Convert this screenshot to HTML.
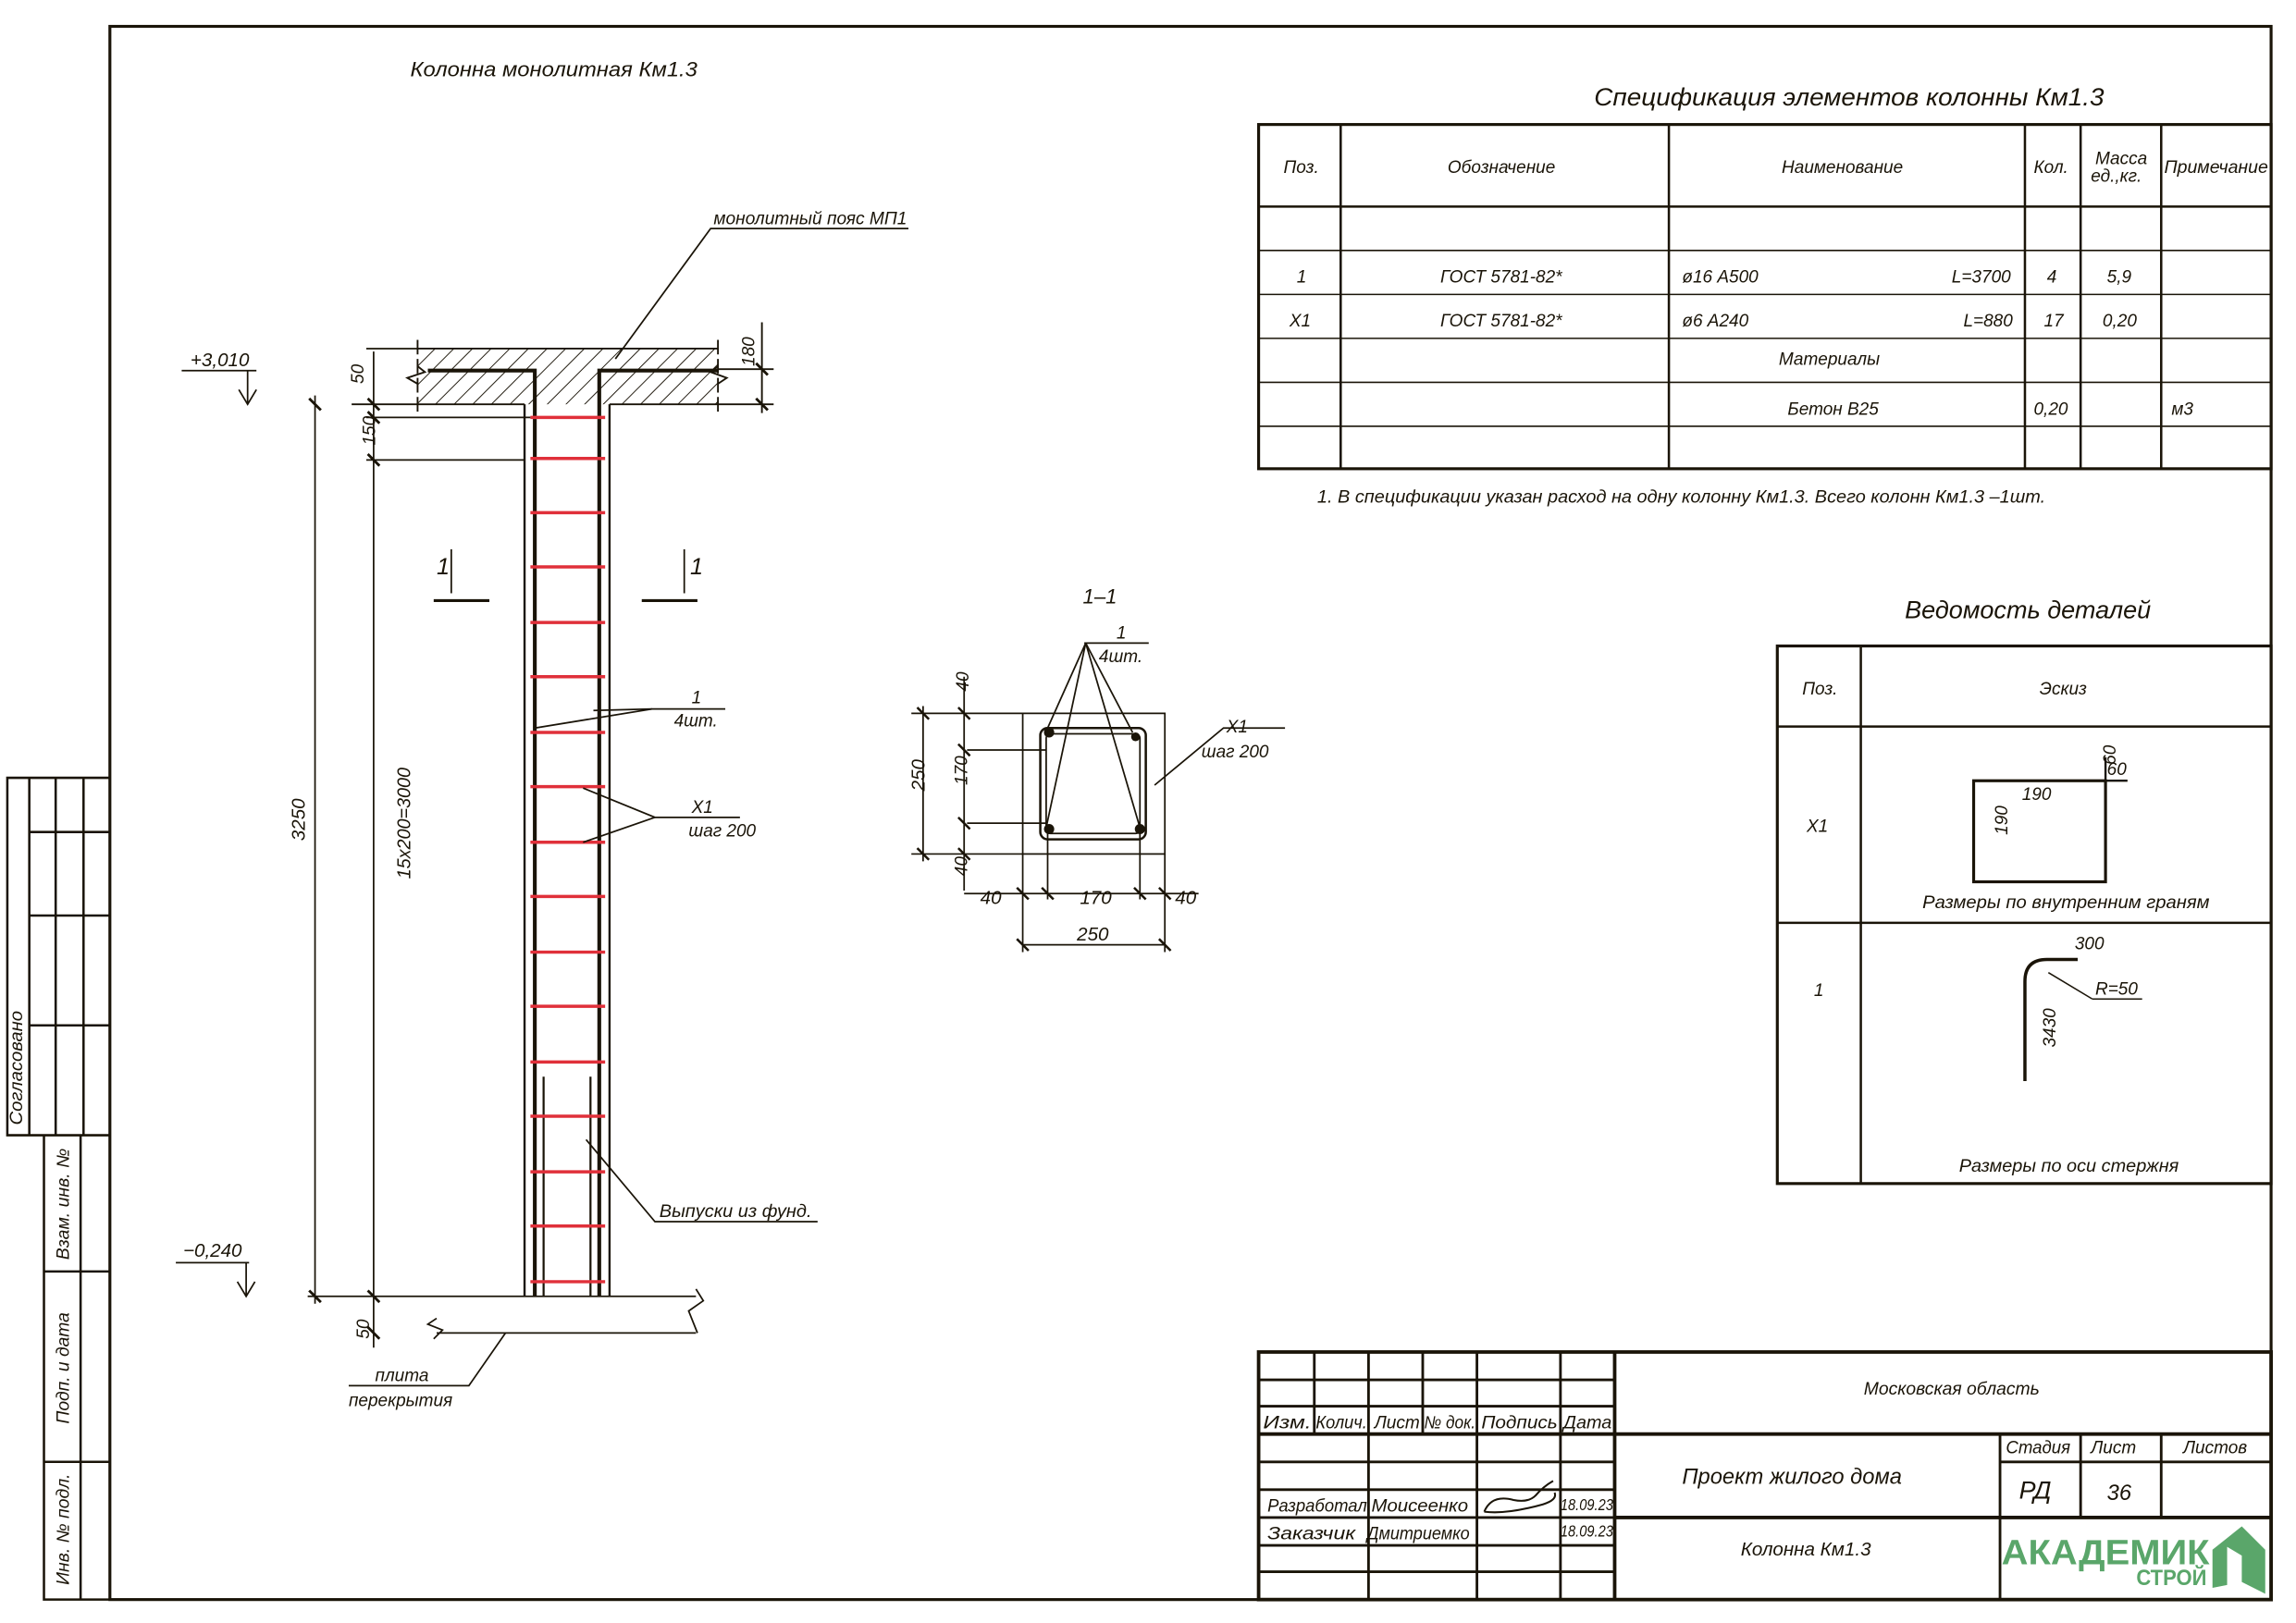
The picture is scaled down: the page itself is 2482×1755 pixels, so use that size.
<!DOCTYPE html>
<html><head><meta charset="utf-8"><style>
html,body{margin:0;padding:0;background:#fff}
svg{display:block}
text{font-family:"Liberation Sans Narrow","Liberation Sans",sans-serif;font-style:italic;fill:#1a1408}
</style></head><body>
<svg width="2482" height="1755" viewBox="0 0 1567 1108" preserveAspectRatio="none" xmlns="http://www.w3.org/2000/svg">
<defs>
<pattern id="h" width="9" height="9" patternUnits="userSpaceOnUse" patternTransform="rotate(45)">
<line x1="0" y1="0" x2="0" y2="9" stroke="#1a1408" stroke-width="1.2"/>
</pattern>
</defs>
<g stroke="#1a1408" fill="none">
<rect x="75" y="18" width="1475" height="1074" stroke-width="2"/>
<g stroke-width="1.6">
<polyline points="75,531 5,531 5,775 75,775"/>
<line x1="20" y1="531" x2="20" y2="775"/>
<line x1="38" y1="531" x2="38" y2="775"/>
<line x1="57" y1="531" x2="57" y2="775"/>
<line x1="20" y1="568" x2="75" y2="568"/>
<line x1="20" y1="625" x2="75" y2="625"/>
<line x1="20" y1="700" x2="75" y2="700"/>
<polyline points="75,1092 30,1092 30,775"/>
<line x1="55" y1="775" x2="55" y2="1092"/>
<line x1="30" y1="868" x2="75" y2="868"/>
<line x1="30" y1="998" x2="75" y2="998"/>
</g>
</g>
<g font-size="12">
<text x="15" y="768" transform="rotate(-90 15 768)" textLength="78" lengthAdjust="spacingAndGlyphs">Согласовано</text>
<text x="47" y="860" transform="rotate(-90 47 860)" textLength="76" lengthAdjust="spacingAndGlyphs">Взам. инв. №</text>
<text x="47" y="972" transform="rotate(-90 47 972)" textLength="76" lengthAdjust="spacingAndGlyphs">Подп. и дата</text>
<text x="47" y="1082" transform="rotate(-90 47 1082)" textLength="76" lengthAdjust="spacingAndGlyphs">Инв. № подл.</text>
</g>

<text x="280" y="52" font-size="14" textLength="196" lengthAdjust="spacingAndGlyphs">Колонна монолитная Км1.3</text>
<rect x="285" y="238" width="205" height="38" fill="url(#h)"/>
<g stroke="#1a1408" fill="none" stroke-width="1.2">
<line x1="285" y1="238" x2="490" y2="238"/>
<line x1="240" y1="276" x2="358" y2="276"/>
<line x1="416" y1="276" x2="528" y2="276"/>
<line x1="285" y1="232" x2="285" y2="282" stroke-dasharray="10 3"/>
<line x1="490" y1="232" x2="490" y2="282" stroke-dasharray="10 3"/>
<polyline points="285,250 290,254 278,258 285,262"/>
<polyline points="490,250 485,254 496,258 490,262"/>
<line x1="490" y1="252" x2="528" y2="252"/>
<line x1="520" y1="220" x2="520" y2="282"/>
<line x1="516" y1="248" x2="524" y2="256" stroke-width="1.8"/>
<line x1="516" y1="272" x2="524" y2="280" stroke-width="1.8"/>
<line x1="358" y1="276" x2="358" y2="885" stroke-width="1.5"/>
<line x1="416" y1="276" x2="416" y2="885" stroke-width="1.5"/>
<polyline points="292,253 365,253 365,885" stroke-width="2.6"/>
<polyline points="490,253 409,253 409,885" stroke-width="2.6"/>
<line x1="371" y1="735" x2="371" y2="885" stroke-width="1.4"/>
<line x1="403" y1="735" x2="403" y2="885" stroke-width="1.4"/>
</g>
<g stroke="#e0303a" stroke-width="2.2">
<line x1="362" y1="285" x2="413" y2="285"/><line x1="362" y1="313" x2="413" y2="313"/>
<line x1="362" y1="350" x2="413" y2="350"/><line x1="362" y1="387" x2="413" y2="387"/>
<line x1="362" y1="425" x2="413" y2="425"/><line x1="362" y1="462" x2="413" y2="462"/>
<line x1="362" y1="500" x2="413" y2="500"/><line x1="362" y1="537" x2="413" y2="537"/>
<line x1="362" y1="575" x2="413" y2="575"/><line x1="362" y1="612" x2="413" y2="612"/>
<line x1="362" y1="650" x2="413" y2="650"/><line x1="362" y1="687" x2="413" y2="687"/>
<line x1="362" y1="725" x2="413" y2="725"/><line x1="362" y1="762" x2="413" y2="762"/>
<line x1="362" y1="800" x2="413" y2="800"/><line x1="362" y1="837" x2="413" y2="837"/>
<line x1="362" y1="875" x2="413" y2="875"/>
</g>
<g stroke="#1a1408" fill="none" stroke-width="1.1">
<line x1="215" y1="270" x2="215" y2="890"/>
<line x1="255" y1="240" x2="255" y2="920"/>
<line x1="210" y1="885" x2="475" y2="885"/>
<line x1="250" y1="285" x2="362" y2="285"/>
<line x1="250" y1="314" x2="358" y2="314"/>
<line x1="250" y1="238" x2="285" y2="238"/>
<g stroke-width="1.8">
<line x1="211" y1="272" x2="219" y2="280"/><line x1="211" y1="881" x2="219" y2="889"/>
<line x1="251" y1="272" x2="259" y2="280"/><line x1="251" y1="281" x2="259" y2="289"/>
<line x1="251" y1="310" x2="259" y2="318"/><line x1="251" y1="881" x2="259" y2="889"/>
<line x1="251" y1="906" x2="259" y2="914"/>
</g>
<line x1="298" y1="910" x2="475" y2="910"/>
<polyline points="298,900 292,904 302,908 296,914"/>
<polyline points="475,880 480,888 470,895 476,910"/>
<line x1="124" y1="253" x2="175" y2="253"/>
<line x1="169" y1="253" x2="169" y2="276"/>
<polyline points="163,266 169,276 175,266"/>
<line x1="120" y1="862" x2="170" y2="862"/>
<line x1="168" y1="862" x2="168" y2="885"/>
<polyline points="162,875 168,885 174,875"/>
<line x1="308" y1="375" x2="308" y2="405"/><line x1="296" y1="410" x2="334" y2="410" stroke-width="2"/>
<line x1="467" y1="375" x2="467" y2="405"/><line x1="438" y1="410" x2="476" y2="410" stroke-width="2"/>
<polyline points="620,156 485,156 420,245"/>
<polyline points="495,484 445,484 365,497"/><line x1="445" y1="484" x2="405" y2="485"/>
<polyline points="505,558 447,558 398,538"/><line x1="447" y1="558" x2="398" y2="575"/>
<polyline points="558,834 447,834 400,778"/>
<polyline points="238,946 320,946 345,910"/>
</g>
<g font-size="12">
<text x="487" y="153" textLength="132" lengthAdjust="spacingAndGlyphs">монолитный пояс МП1</text>
<text x="505" y="240" transform="rotate(-90 515 240)">180</text>
<text x="244" y="258" transform="rotate(-90 248 258)">50</text>
<text x="244" y="308" transform="rotate(-90 248 300)">150</text>
<text x="212" y="578" font-size="13" transform="rotate(-90 208 578)">3250</text>
<text x="248" y="632" font-size="13" transform="rotate(-90 248 600)" textLength="76" lengthAdjust="spacingAndGlyphs">15x200=3000</text>
<text x="244" y="914" transform="rotate(-90 248 910)">50</text>
<text x="130" y="250" font-size="13">+3,010</text>
<text x="125" y="858" font-size="13">−0,240</text>
<text x="298" y="392" font-size="16">1</text>
<text x="471" y="392" font-size="16">1</text>
<text x="472" y="480">1</text>
<text x="460" y="496">4шт.</text>
<text x="472" y="555">X1</text>
<text x="470" y="571">шаг 200</text>
<text x="450" y="831" textLength="104" lengthAdjust="spacingAndGlyphs">Выпуски из фунд.</text>
<text x="256" y="943">плита</text>
<text x="238" y="960">перекрытия</text>
</g>

<text x="739" y="412" font-size="14">1–1</text>
<g stroke="#1a1408" fill="none" stroke-width="1.1">
<rect x="698" y="487" width="97" height="96"/>
<rect x="710" y="497" width="72" height="76" rx="5" stroke-width="1.6"/>
<rect x="714" y="501" width="64" height="68" rx="3"/>
<line x1="740" y1="439" x2="784" y2="439"/>
<line x1="741" y1="439" x2="715" y2="497"/><line x1="741" y1="439" x2="714" y2="565"/>
<line x1="741" y1="439" x2="778" y2="565"/><line x1="741" y1="439" x2="773" y2="500"/>
<polyline points="877,497 835,497 788,536"/>
<line x1="622" y1="487" x2="698" y2="487"/>
<line x1="622" y1="583" x2="698" y2="583"/>
<line x1="660" y1="512" x2="714" y2="512"/>
<line x1="660" y1="562" x2="714" y2="562"/>
<line x1="630" y1="482" x2="630" y2="588"/>
<line x1="658" y1="462" x2="658" y2="608"/>
<line x1="658" y1="610" x2="818" y2="610"/>
<line x1="698" y1="583" x2="698" y2="650"/>
<line x1="795" y1="583" x2="795" y2="650"/>
<line x1="715" y1="566" x2="715" y2="614"/>
<line x1="778" y1="566" x2="778" y2="614"/>
<line x1="698" y1="645" x2="795" y2="645"/>
<g stroke-width="1.6">
<line x1="626" y1="483" x2="634" y2="491"/><line x1="626" y1="579" x2="634" y2="587"/>
<line x1="654" y1="483" x2="662" y2="491"/><line x1="654" y1="508" x2="662" y2="516"/>
<line x1="654" y1="558" x2="662" y2="566"/><line x1="654" y1="579" x2="662" y2="587"/>
<line x1="694" y1="606" x2="702" y2="614"/><line x1="711" y1="606" x2="719" y2="614"/>
<line x1="774" y1="606" x2="782" y2="614"/><line x1="791" y1="606" x2="799" y2="614"/>
<line x1="694" y1="641" x2="702" y2="649"/><line x1="791" y1="641" x2="799" y2="649"/>
</g>
</g>
<g fill="#1a1408"><circle cx="716" cy="500" r="3.5"/><circle cx="775" cy="503" r="3"/><circle cx="716" cy="566" r="3.5"/><circle cx="778" cy="566" r="3.5"/></g>
<g font-size="12">
<text x="762" y="436">1</text>
<text x="750" y="452">4шт.</text>
<text x="837" y="500">X1</text>
<text x="820" y="517">шаг 200</text>
<text x="626" y="545" font-size="13" transform="rotate(-90 626 540)">250</text>
<text x="656" y="540" transform="rotate(-90 656 536)">170</text>
<text x="656" y="477" transform="rotate(-90 656 472)">40</text>
<text x="656" y="602" transform="rotate(-90 656 598)">40</text>
<text x="669" y="617" font-size="13">40</text>
<text x="737" y="617" font-size="13">170</text>
<text x="802" y="617" font-size="13">40</text>
<text x="735" y="642" font-size="13">250</text>
</g>

<text x="1088" y="72" font-size="17" textLength="348" lengthAdjust="spacingAndGlyphs">Спецификация элементов колонны Км1.3</text>
<g stroke="#1a1408" fill="none">
<rect x="859" y="85" width="691" height="235" stroke-width="2"/>
<g stroke-width="1.6">
<line x1="915" y1="85" x2="915" y2="320"/><line x1="1139" y1="85" x2="1139" y2="320"/>
<line x1="1382" y1="85" x2="1382" y2="320"/><line x1="1420" y1="85" x2="1420" y2="320"/>
<line x1="1475" y1="85" x2="1475" y2="320"/>
<line x1="859" y1="141" x2="1550" y2="141"/>
</g>
<g stroke-width="1">
<line x1="859" y1="171" x2="1550" y2="171"/><line x1="859" y1="201" x2="1550" y2="201"/>
<line x1="859" y1="231" x2="1550" y2="231"/><line x1="859" y1="261" x2="1550" y2="261"/>
<line x1="859" y1="291" x2="1550" y2="291"/>
</g>
</g>
<g font-size="12">
<text x="876" y="118">Поз.</text><text x="988" y="118">Обозначение</text>
<text x="1216" y="118">Наименование</text><text x="1388" y="118">Кол.</text>
<text x="1430" y="112">Масса</text><text x="1427" y="124">ед.,кг.</text>
<text x="1477" y="118" textLength="71" lengthAdjust="spacingAndGlyphs">Примечание</text>
<text x="885" y="193">1</text><text x="983" y="193">ГОСТ 5781-82*</text>
<text x="1148" y="193">ø16 А500</text><text x="1332" y="193">L=3700</text>
<text x="1397" y="193">4</text><text x="1438" y="193">5,9</text>
<text x="880" y="223">X1</text><text x="983" y="223">ГОСТ 5781-82*</text>
<text x="1148" y="223">ø6 А240</text><text x="1340" y="223">L=880</text>
<text x="1395" y="223">17</text><text x="1435" y="223">0,20</text>
<text x="1214" y="249">Материалы</text>
<text x="1220" y="283">Бетон В25</text><text x="1388" y="283">0,20</text><text x="1482" y="283">м3</text>
<text x="899" y="343" textLength="497" lengthAdjust="spacingAndGlyphs">1. В спецификации указан расход на одну колонну Км1.3. Всего колонн Км1.3 –1шт.</text>
</g>

<text x="1300" y="422" font-size="17" textLength="168" lengthAdjust="spacingAndGlyphs">Ведомость деталей</text>
<g stroke="#1a1408" fill="none">
<rect x="1213" y="441" width="337" height="367" stroke-width="2"/>
<g stroke-width="1.6">
<line x1="1270" y1="441" x2="1270" y2="808"/>
<line x1="1213" y1="496" x2="1550" y2="496"/>
<line x1="1213" y1="630" x2="1550" y2="630"/>
</g>
<rect x="1347" y="533" width="90" height="69" stroke-width="2"/>
<line x1="1437" y1="533" x2="1452" y2="533" stroke-width="1.5"/>
<line x1="1437" y1="533" x2="1437" y2="517" stroke-width="1.5"/>
<path d="M1382,738 L1382,670 Q1382,655 1397,655 L1418,655" stroke-width="2.2"/>
<line x1="1428" y1="682" x2="1462" y2="682"/><line x1="1428" y1="682" x2="1398" y2="664"/>
</g>
<g font-size="12">
<text x="1230" y="474">Поз.</text><text x="1392" y="474">Эскиз</text>
<text x="1233" y="568">X1</text><text x="1380" y="546">190</text>
<text x="1360" y="580" transform="rotate(-90 1360 570)">190</text>
<text x="1436" y="530" transform="rotate(-90 1436 522)">60</text>
<text x="1438" y="529">60</text>
<text x="1312" y="620" textLength="196" lengthAdjust="spacingAndGlyphs">Размеры по внутренним граням</text>
<text x="1238" y="680">1</text><text x="1416" y="648">300</text>
<text x="1430" y="679">R=50</text>
<text x="1388" y="730" transform="rotate(-90 1388 715)">3430</text>
<text x="1337" y="800" textLength="150" lengthAdjust="spacingAndGlyphs">Размеры по оси стержня</text>
</g>

<g stroke="#1a1408" fill="none">
<rect x="859" y="923" width="691" height="169" stroke-width="2.4"/>
<g stroke-width="1.8">
<line x1="897" y1="923" x2="897" y2="979"/><line x1="934" y1="923" x2="934" y2="1092"/>
<line x1="971" y1="923" x2="971" y2="979"/><line x1="1008" y1="923" x2="1008" y2="1092"/>
<line x1="1065" y1="923" x2="1065" y2="1092"/>
<line x1="1102" y1="923" x2="1102" y2="1092" stroke-width="2.4"/>
<line x1="859" y1="942" x2="1102" y2="942"/><line x1="859" y1="960" x2="1102" y2="960"/>
<line x1="859" y1="979" x2="1550" y2="979" stroke-width="2.4"/>
<line x1="859" y1="998" x2="1102" y2="998"/><line x1="859" y1="1017" x2="1102" y2="1017"/>
<line x1="859" y1="1036" x2="1102" y2="1036"/><line x1="859" y1="1055" x2="1102" y2="1055"/>
<line x1="859" y1="1073" x2="1102" y2="1073"/>
<line x1="1102" y1="1036" x2="1550" y2="1036" stroke-width="2.4"/>
<line x1="1365" y1="979" x2="1365" y2="1092"/>
<line x1="1420" y1="979" x2="1420" y2="1036"/><line x1="1475" y1="979" x2="1475" y2="1036"/>
<line x1="1365" y1="998" x2="1550" y2="998"/>
</g>
<path d="M1013,1032 q5,-12 20,-8 q10,2 15,-3 q5,-6 12,-10 M1013,1032 q15,2 40,-5 q10,-3 8,-8" stroke-width="1.3"/>
</g>
<g font-size="12">
<text x="862" y="975" textLength="33" lengthAdjust="spacingAndGlyphs">Изм.</text>
<text x="898" y="975" textLength="35" lengthAdjust="spacingAndGlyphs">Колич.</text>
<text x="938" y="975" textLength="31" lengthAdjust="spacingAndGlyphs">Лист</text>
<text x="972" y="975" textLength="35" lengthAdjust="spacingAndGlyphs">№ док.</text>
<text x="1011" y="975" textLength="52" lengthAdjust="spacingAndGlyphs">Подпись</text>
<text x="1067" y="975" textLength="33" lengthAdjust="spacingAndGlyphs">Дата</text>
<text x="865" y="1032" textLength="68" lengthAdjust="spacingAndGlyphs">Разработал</text>
<text x="936" y="1032" textLength="66" lengthAdjust="spacingAndGlyphs">Моисеенко</text>
<text x="1065" y="1031" font-size="11" textLength="36" lengthAdjust="spacingAndGlyphs">18.09.23</text>
<text x="865" y="1051" textLength="60" lengthAdjust="spacingAndGlyphs">Заказчик</text>
<text x="933" y="1051" textLength="70" lengthAdjust="spacingAndGlyphs">Дмитриемко</text>
<text x="1065" y="1049" font-size="11" textLength="36" lengthAdjust="spacingAndGlyphs">18.09.23</text>
<text x="1272" y="952" textLength="120" lengthAdjust="spacingAndGlyphs">Московская область</text>
<text x="1148" y="1013" font-size="15" textLength="150" lengthAdjust="spacingAndGlyphs">Проект жилого дома</text>
<text x="1188" y="1062" font-size="13">Колонна Км1.3</text>
<text x="1369" y="992" textLength="44" lengthAdjust="spacingAndGlyphs">Стадия</text>
<text x="1427" y="992">Лист</text><text x="1490" y="992">Листов</text>
<text x="1378" y="1023" font-size="17">РД</text><text x="1438" y="1024" font-size="15">36</text>
</g>
<text x="1366" y="1068" font-size="24" font-weight="bold" style="font-style:normal;fill:#5aa66a" textLength="142" lengthAdjust="spacingAndGlyphs">АКАДЕМИК</text>
<text x="1458" y="1082" font-size="15" font-weight="bold" style="font-style:normal;fill:#5aa66a" textLength="48" lengthAdjust="spacingAndGlyphs">СТРОЙ</text>
<path d="M1510,1058 L1530,1042 L1546,1058 L1546,1088 L1530,1080 L1530,1062 L1520,1056 L1520,1082 L1510,1084 Z" fill="#5aa66a"/>
</svg>
</body></html>
